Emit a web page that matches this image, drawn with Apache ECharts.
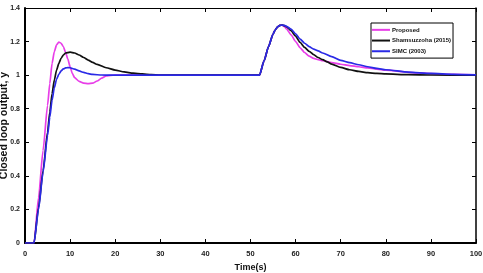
<!DOCTYPE html>
<html>
<head>
<meta charset="utf-8">
<script src="https://cdn.jsdelivr.net/npm/echarts@6/dist/echarts.min.js"></script>
<style>html,body{margin:0;padding:0;background:#fff;}#c{width:483px;height:273px;}</style>
</head>
<body>
<div id="c"></div>
<script>
var seriesNames = ['Proposed', 'Shamsuzzoha (2015)', 'SIMC (2003)'];
var xTicks = [0, 10, 20, 30, 40, 50, 60, 70, 80, 90, 100];
var yTicks = [0, 0.2, 0.4, 0.6, 0.8, 1, 1.2, 1.4];

var proposedData = [
  [0,0],[2,0],[3,0.27],[4,0.55],[5,0.82],[5.5,0.95],[6,1.07],[6.5,1.14],[7,1.18],[7.5,1.197],[8,1.19],
  [8.5,1.17],[9,1.135],[9.5,1.095],[10,1.05],[10.5,1.01],[11,0.985],[12,0.963],[13,0.952],[14,0.949],
  [15,0.952],[16,0.965],[17,0.982],[18,0.995],[19,0.999],[20,1.0],[30,1.0],[40,1.0],[52,1.0],
  [53,1.085],[54,1.17],[55,1.245],[55.5,1.27],[56,1.287],[56.5,1.296],[57,1.298],[57.5,1.29],[58,1.275],
  [59,1.24],[60,1.2],[61,1.163],[62,1.135],[63,1.113],[64,1.1],[65,1.092],[66,1.086],[68,1.075],
  [70,1.065],[72,1.057],[74,1.05],[76,1.043],[78,1.036],[80,1.03],[85,1.017],[90,1.009],[95,1.004],[100,1.002]
];
var shamsuzzohaData = [
  [0,0],[2,0],[3,0.21],[4,0.43],[5,0.66],[5.5,0.78],[6,0.89],[6.5,0.97],[7,1.03],[7.5,1.07],[8,1.1],
  [8.5,1.12],[9,1.132],[10,1.137],[11,1.132],[12,1.12],[13,1.105],[14,1.09],[15,1.076],[16,1.064],
  [18,1.044],[20,1.03],[22,1.019],[24,1.012],[26,1.007],[28,1.003],[30,1.001],[33,1.0],[40,1.0],[52,1.0],
  [53,1.085],[54,1.17],[55,1.245],[55.5,1.27],[56,1.287],[56.5,1.296],[57,1.298],[57.5,1.295],[58,1.288],
  [59,1.265],[60,1.232],[61,1.195],[62,1.165],[63,1.142],[64,1.122],[65,1.105],[66,1.092],[67,1.079],
  [68,1.066],[70,1.046],[72,1.032],[74,1.022],[76,1.015],[78,1.01],[80,1.007],[85,1.003],[90,1.001],[100,1.0]
];
var simcData = [
  [0,0],[2,0],[3,0.2],[4,0.42],[5,0.64],[5.5,0.75],[6,0.85],[6.5,0.925],[7,0.975],[7.5,1.005],[8,1.025],
  [8.5,1.037],[9,1.043],[9.5,1.045],[10,1.044],[11,1.036],[12,1.025],[13,1.016],[14,1.009],[15,1.004],
  [17,1.001],[19,1.0],[30,1.0],[40,1.0],[52,1.0],
  [53,1.085],[54,1.17],[55,1.245],[55.5,1.27],[56,1.287],[56.5,1.296],[57,1.298],[57.5,1.296],[58,1.291],
  [59,1.274],[60,1.246],[61,1.215],[62,1.19],[63,1.17],[64,1.155],[65,1.144],[66,1.132],[68,1.11],
  [70,1.088],[72,1.074],[74,1.062],[76,1.05],[78,1.04],[80,1.032],[85,1.018],[90,1.01],[95,1.005],[100,1.002]
];

var FONT = "'Liberation Sans', Arial, sans-serif";
var chart = echarts.init(document.getElementById('c'), null, {renderer: 'canvas'});

function baseX(pos, showLabel, name) {
  return {
    type: 'value', position: pos, min: xTicks[0], max: xTicks[xTicks.length - 1], interval: 10,
    name: name || '', nameLocation: 'middle', nameGap: 20, nameMoveOverlap: false,
    nameTextStyle: {fontFamily: FONT, fontWeight: 'bold', fontSize: 9, color: '#111'},
    axisLine: {show: true, onZero: false, lineStyle: {color: '#000', width: pos === 'bottom' ? 2 : 1}},
    axisTick: {show: true, inside: true, length: 4, lineStyle: {color: '#000', width: 1}},
    axisLabel: {show: showLabel, margin: 7, fontFamily: FONT, fontWeight: 'bold', fontSize: 7.5, color: '#222'},
    splitLine: {show: false}
  };
}
function baseY(pos, showLabel, name) {
  return {
    type: 'value', position: pos, min: yTicks[0], max: yTicks[yTicks.length - 1], interval: 0.2,
    name: name || '', nameLocation: 'middle', nameGap: 15.5, nameMoveOverlap: false,
    nameTextStyle: {fontFamily: FONT, fontWeight: 'bold', fontSize: 10.5, color: '#111'},
    axisLine: {show: true, onZero: false, lineStyle: {color: '#000', width: pos === 'left' ? 2 : 1.5}},
    axisTick: {show: true, inside: true, length: 4, lineStyle: {color: '#000', width: 1}},
    axisLabel: {show: showLabel, margin: 5, fontFamily: FONT, fontWeight: 'bold', fontSize: 7, color: '#222'},
    splitLine: {show: false}
  };
}

function mkSeries(name, data, color) {
  return {
    name: name, type: 'line', data: data, xAxisIndex: 0, yAxisIndex: 0,
    showSymbol: false, symbol: 'none', smooth: 0.2, smoothMonotone: 'x',
    lineStyle: {color: color, width: 1.7}, itemStyle: {color: color}
  };
}

chart.setOption({
  animation: false,
  backgroundColor: '#fff',
  grid: {left: 25, right: 7, top: 8, bottom: 30, containLabel: false, outerBoundsMode: 'none'},
  xAxis: [baseX('bottom', true, 'Time(s)'), baseX('top', false)],
  yAxis: [baseY('left', true, 'Closed loop output, y'), baseY('right', false)],
  legend: {
    show: true, orient: 'vertical', left: 371, top: 23,
    data: seriesNames.map(function (n) { return {name: n, icon: 'rect'}; }),
    backgroundColor: '#fff', borderColor: '#000', borderWidth: 1,
    padding: [2, 2, 2, 1], itemGap: 1, itemWidth: 18, itemHeight: 2,
    textStyle: {fontFamily: FONT, fontWeight: 'bold', fontSize: 6, lineHeight: 9.7, color: '#111', padding: [0, 0, 0, -3]}
  },
  series: [
    mkSeries(seriesNames[0], proposedData, '#e83ee8'),
    mkSeries(seriesNames[1], shamsuzzohaData, '#111111'),
    mkSeries(seriesNames[2], simcData, '#2a2ae6')
  ]
});
</script>
</body>
</html>
